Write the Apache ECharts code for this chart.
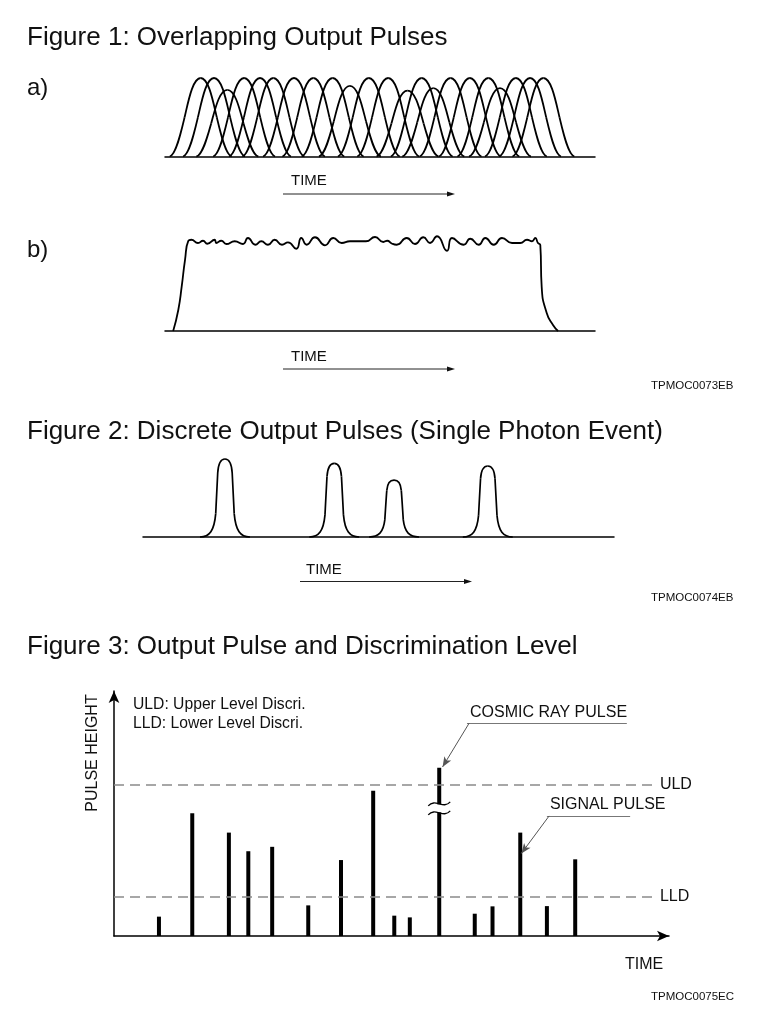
<!DOCTYPE html>
<html><head><meta charset="utf-8">
<script src="https://cdn.jsdelivr.net/npm/echarts@6/dist/echarts.min.js"></script>
<style>html,body{margin:0;padding:0;background:#fff}#c{width:768px;height:1016px}</style>
</head><body><div id="c"></div>
<script>
const FONT = '"Liberation Sans", Arial, Helvetica, sans-serif';

// ---------- data ----------
const titles = ['Figure 1: Overlapping Output Pulses',
  'Figure 2: Discrete Output Pulses (Single Photon Event)',
  'Figure 3: Output Pulse and Discrimination Level'];
const figureIds = ['TPMOC0073EB', 'TPMOC0074EB', 'TPMOC0075EC'];
const panelLabels = ['a)', 'b)'];
const timeLabel = 'TIME';

// Figure 1a: overlapping pulses (time, relative height)
const fig1aPulseTimes = [8.3, 11.4, 14.5, 18.4, 22.1, 25.2, 30.0, 34.5, 39.0, 43.0, 47.4,
  51.9, 56.4, 59.7, 62.4, 66.4, 70.9, 75.2, 77.9, 81.6, 84.9, 88.0];
const fig1aPulseHeights = [100, 100, 85, 100, 100, 100, 100, 100, 100, 90, 100,
  100, 84, 100, 87, 100, 100, 100, 87, 100, 100, 100];

// Figure 1b: merged output (time, level)
const fig1bTimes = [1.9, 3.09, 3.88, 4.65, 5.42, 6.12, 7.67, 8.84, 9.84, 11.56, 11.93,
  13.09, 14.26, 16.21, 18.14, 19.30, 21.0, 22.40, 23.95, 25.51, 27.21, 28.60, 30.53, 31.70, 32.95,
  34.88, 37.21, 39.14, 41.09, 43.02, 46.74, 48.84, 50.77, 51.7, 52.72, 53.88, 56.21, 58.14, 60.07,
  61.63, 63.26, 65.58, 66.74, 69.47, 71.0, 72.95, 74.49, 76.44, 78.37, 80.7, 82.63, 84.19, 85.35,
  86.12, 86.74, 87.28, 87.6, 88.77, 90.23, 91.4];
const fig1bLevels = [0, 23.1, 48.7, 78.0, 99.0, 100.3, 96.7, 99.2, 95.9, 100.3, 96.7,
  99.2, 95.6, 98.6, 95.6, 102.2, 94.8, 98.6, 94.8, 100.3, 94.8, 97.5, 90.4, 102.2, 94.8,
  103.0, 94.2, 102.2, 96.7, 98.6, 98.6, 103.3, 97.8, 99.2, 96.2, 94.8, 102.2, 95.6, 103.0,
  96.7, 104.1, 88.2, 102.2, 94.8, 101.4, 94.8, 102.2, 94.8, 102.2, 96.7, 96.7, 100.3, 98.6,
  102.2, 96.7, 94.5, 48.7, 19.8, 6.6, 0];

// Figure 2: discrete pulses
const fig2PulseTimes = [17.4, 40.6, 53.3, 73.2];
const fig2PulseHeights = [100, 94.5, 73, 91];

// Figure 3: pulse heights and discrimination levels
const fig3PulseTimes = [8.1, 14.1, 20.7, 24.2, 28.5, 35.0, 40.9, 46.7, 50.5, 53.3, 58.6,
  65.0, 68.2, 73.2, 78.0, 83.1];
const fig3PulseHeights = [7.9, 50.1, 42.2, 34.6, 36.4, 12.5, 31.0, 59.3, 8.3, 7.6, 68.7,
  9.1, 12.1, 42.2, 12.2, 31.3];
const levelNames = ['ULD', 'LLD'];
const levelValues = [61.9, 15.9];
const levelLineEnd = 97.1;
const legendLines = ['ULD: Upper Level Discri.', 'LLD: Lower Level Discri.'];
const yAxisName = 'PULSE HEIGHT';
const cosmicIndex = 10;
const cosmicBreakLevel = 52.1;
const annotationTexts = ['COSMIC RAY PULSE', 'SIGNAL PULSE'];
// [underline start x, underline end x, underline y, arrow tip x, arrow tip y]
const cosmicNote = [63.6, 92.4, 86.9, 59.2, 69.0];
const signalNote = [78.0, 93.0, 49.0, 73.4, 33.7];

// ---------- drawing helpers ----------
// left half of a pulse as cubic segments, in (fraction of half width, fraction of height)
const bellShape = [[[-1, 0], [-0.8, 0.02], [-0.64, 0.3], [-0.52, 0.5]],
                   [[-0.52, 0.5], [-0.4, 0.7], [-0.26, 1], [0, 1]]];
const spikeShape = [[[-1, 0], [-0.62, 0], [-0.43, 0.08], [-0.37, 0.3]],
                    [[-0.37, 0.3], [-0.34, 0.5], [-0.31, 0.72], [-0.29, 0.82]],
                    [[-0.29, 0.82], [-0.26, 0.98], [-0.12, 1], [0, 1]]];

function pulseRenderer(halfWidth, segs, lw) {
  return function (params, api) {
    const c = api.value(0), h = api.value(1);
    const st = { stroke: '#000', fill: 'none', lineWidth: lw };
    const children = [];
    [1, -1].forEach(function (s) {
      const p = (d) => api.coord([c + s * d[0] * halfWidth, d[1] * h]);
      segs.forEach(function (seg) {
        const P0 = p(seg[0]), P1 = p(seg[1]), P2 = p(seg[2]), P3 = p(seg[3]);
        children.push({ type: 'bezierCurve', shape: { x1: P0[0], y1: P0[1], cpx1: P1[0], cpy1: P1[1],
          cpx2: P2[0], cpy2: P2[1], x2: P3[0], y2: P3[1] }, style: st });
      });
    });
    return { type: 'group', children: children };
  };
}

function plainAxis(grid, arrow) {
  return {
    gridIndex: grid, type: 'value', min: 0, max: 100,
    axisLine: { show: true, onZero: false, lineStyle: { color: '#000', width: 1.5 },
      symbol: arrow ? ['none', 'arrow'] : ['none', 'none'], symbolSize: [8, 12] },
    axisTick: { show: false }, axisLabel: { show: false }, splitLine: { show: false }
  };
}
function hiddenY(grid) {
  return { gridIndex: grid, type: 'value', min: 0, max: 100, show: false, splitLine: { show: false } };
}

function txt(text, x, y, size, extra, rotation) {
  return { type: 'text', x: x, y: y, silent: true, rotation: rotation || 0,
    style: Object.assign({ text: text, fontSize: size, fontFamily: FONT, fill: '#111',
      align: 'left', verticalAlign: 'middle' }, extra || {}) };
}
function timeArrow(x1, x2, y) {
  return [
    { type: 'line', silent: true, shape: { x1: x1, y1: y, x2: x2 - 6, y2: y }, style: { stroke: '#222', lineWidth: 1 } },
    { type: 'polygon', silent: true, shape: { points: [[x2, y], [x2 - 8, y - 2.5], [x2 - 8, y + 2.5]] }, style: { fill: '#111' } }
  ];
}

const labelStyle = { color: '#111', fontSize: 16, fontFamily: FONT };

function noteLines(note, text) {
  return [
    [{ coord: [note[0], note[2]], lineStyle: { color: '#777', width: 1, type: 'solid' },
       label: Object.assign({ show: true, position: 'insideStartTop', formatter: text, distance: 3 }, labelStyle) },
     { coord: [note[1], note[2]] }],
    [{ coord: [note[0] + 0.4, note[2]], lineStyle: { color: '#555', width: 1, type: 'solid' }, label: { show: false } },
     { coord: [note[3], note[4]], symbol: 'arrow', symbolSize: [6, 10] }]
  ];
}

const option = {
  animation: false,
  backgroundColor: '#fff',
  grid: [
    { left: 165, right: 173, top: 78, height: 78.5 },
    { left: 165, right: 173, top: 240, height: 91 },
    { left: 143, right: 154, top: 459, height: 78 },
    { left: 114, right: 99, top: 691, height: 245 }
  ],
  xAxis: [plainAxis(0, false), plainAxis(1, false), plainAxis(2, false), plainAxis(3, true)],
  yAxis: [hiddenY(0), hiddenY(1), hiddenY(2), plainAxis(3, true)],
  series: [
    { type: 'custom', xAxisIndex: 0, yAxisIndex: 0, silent: true,
      data: fig1aPulseTimes.map((t, i) => [t, fig1aPulseHeights[i]]),
      renderItem: pulseRenderer(7.2, bellShape, 1.8) },
    { type: 'line', xAxisIndex: 1, yAxisIndex: 1, silent: true, clip: false, symbol: 'none', smooth: 0.55,
      data: fig1bTimes.map((t, i) => [t, fig1bLevels[i]]),
      lineStyle: { color: '#000', width: 1.8 } },
    { type: 'custom', xAxisIndex: 2, yAxisIndex: 2, silent: true,
      data: fig2PulseTimes.map((t, i) => [t, fig2PulseHeights[i]]),
      renderItem: pulseRenderer(5.3, spikeShape, 1.7) },
    { type: 'bar', xAxisIndex: 3, yAxisIndex: 3, silent: true, barWidth: 4,
      data: fig3PulseTimes.map((t, i) => [t, fig3PulseHeights[i]]),
      itemStyle: { color: '#000' },
      markLine: {
        silent: true, animation: false, symbol: ['none', 'none'], symbolSize: [6, 10],
        data: levelNames.map((n, i) => [
          { coord: [0, levelValues[i]], lineStyle: { color: '#8a8a8a', width: 1.5, type: [10, 6] },
            label: Object.assign({ show: true, position: 'end', formatter: n, distance: 7 }, labelStyle) },
          { coord: [levelLineEnd, levelValues[i]] }
        ]).concat(noteLines(cosmicNote, annotationTexts[0]), noteLines(signalNote, annotationTexts[1]))
      }
    },
    { type: 'custom', xAxisIndex: 3, yAxisIndex: 3, silent: true, z: 5,
      data: [[fig3PulseTimes[cosmicIndex], cosmicBreakLevel]],
      renderItem: function (params, api) {
        const pt = api.coord([api.value(0), api.value(1)]);
        const x = pt[0], y = pt[1];
        const tilde = (yy) => ({ type: 'bezierCurve',
          shape: { x1: x - 11, y1: yy + 2, cpx1: x - 4, cpy1: yy - 6, cpx2: x + 4, cpy2: yy + 6, x2: x + 11, y2: yy - 2 },
          style: { stroke: '#000', fill: 'none', lineWidth: 1.3 } });
        return { type: 'group', children: [
          { type: 'rect', shape: { x: x - 4, y: y - 4, width: 8, height: 8 }, style: { fill: '#fff' } },
          tilde(y - 4.5), tilde(y + 4.5)
        ] };
      }
    }
  ],
  graphic: [
    txt(titles[0], 27, 38, 26),
    txt(panelLabels[0], 27, 88, 24),
    txt(timeLabel, 291, 181, 15),
    ...timeArrow(283, 455, 194),
    txt(panelLabels[1], 27, 250, 24),
    txt(timeLabel, 291, 357, 15),
    ...timeArrow(283, 455, 369),
    txt(figureIds[0], 651, 386, 11.5),
    txt(titles[1], 27, 432, 26),
    txt(timeLabel, 306, 570, 15),
    ...timeArrow(300, 472, 581.5),
    txt(figureIds[1], 651, 598, 11.5),
    txt(titles[2], 27, 647, 26),
    txt(legendLines[0], 133, 705, 15.7),
    txt(legendLines[1], 133, 724, 15.7),
    txt(yAxisName, 93, 753, 16, { align: 'center' }, Math.PI / 2),
    txt(timeLabel, 625, 965, 16),
    txt(figureIds[2], 651, 997, 11.5)
  ]
};

const chart = echarts.init(document.getElementById('c'), null, { renderer: 'canvas' });
chart.setOption(option);
</script>
</body></html>
